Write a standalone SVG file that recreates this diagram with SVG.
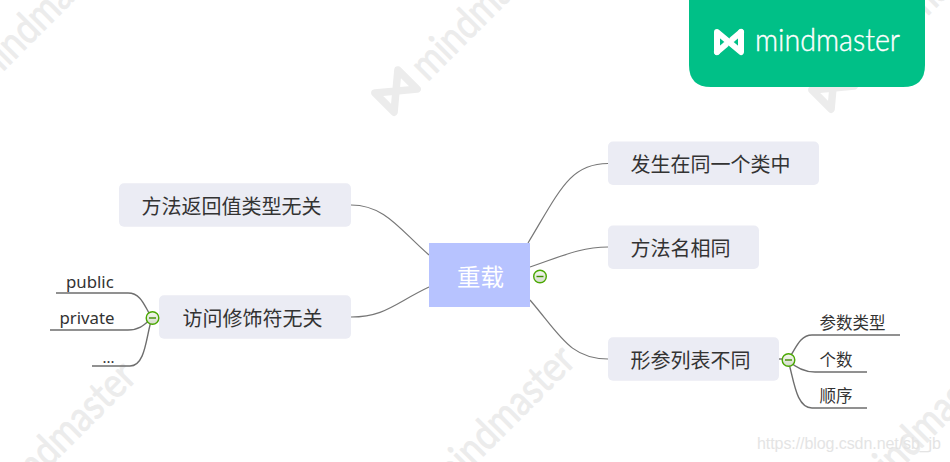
<svg xmlns="http://www.w3.org/2000/svg" xmlns:xlink="http://www.w3.org/1999/xlink" width="950" height="462" viewBox="0 0 950 462">
<style>
text{font-family:"Noto Sans CJK SC","Liberation Sans",sans-serif;fill:#333}
.n{fill:#ebecf4}
.t{font-size:20px}
.s{font-size:16.500px}
.l{font-size:16.800px;font-family:"Noto Sans",sans-serif}
.c{fill:none;stroke:#777;stroke-width:1.2}
.d{fill:none;stroke:#6e6e6e;stroke-width:1.4}
.wm{font-family:Lato,"Open Sans",sans-serif;font-size:42px;fill:#ececec;stroke:#ececec;stroke-width:.8}
.tg{fill:url(#tg);stroke:#4aa802;stroke-width:1.4}
.tm{stroke:#3f8f00;stroke-width:1.4}
</style>
<defs>
<linearGradient id="tg" x1="0" y1="0" x2="0" y2="1"><stop offset="0" stop-color="#f4f8ee"/><stop offset="1" stop-color="#d5dccd"/></linearGradient>
<g id="wm">
<path d="M-24,-20 L-24,20 L24,-20 L24,20 Z" transform="translate(3.500,-2.100) scale(.68)" fill="none" stroke="#ececec" stroke-width="11" stroke-linejoin="round"/>
<text class="wm" x="32" y="14" textLength="185" lengthAdjust="spacingAndGlyphs">mindmaster</text>
</g>
<g id="tog"><circle r="6.300" class="tg"/><path d="M-3.500,0H3.500" class="tm"/></g>
</defs>
<g id="watermarks">
<use xlink:href="#wm" transform="translate(-45,100) rotate(-45)"/>
<use xlink:href="#wm" transform="translate(395,95) rotate(-45)"/>
<use xlink:href="#wm" transform="translate(832,92) rotate(-45)"/>
<use xlink:href="#wm" transform="translate(-25,522) rotate(-45)"/>
<use xlink:href="#wm" transform="translate(414,506) rotate(-45)"/>
<use xlink:href="#wm" transform="translate(838,512) rotate(-45)"/>
</g>
<g id="brand">
<path d="M689,0H925V65Q925,87 903,87H711Q689,87 689,65Z" fill="#00c087"/>
<path d="M741,32L733,38.700M725,45.300L717,52" fill="none" stroke="#fff" stroke-width="6" stroke-linecap="round"/>
<path d="M733,38.700L725,45.300" fill="none" stroke="#fff" stroke-opacity=".55" stroke-width="6"/>
<path d="M717,52V32L741,52V32" fill="none" stroke="#fff" stroke-width="6" stroke-linecap="round" stroke-linejoin="round"/>
<text x="755" y="51" font-size="31" textLength="145" lengthAdjust="spacingAndGlyphs" style="font-family:Lato,sans-serif;font-weight:300;fill:#fff;stroke:#fff;stroke-width:.4">mindmaster</text>
</g>
<g id="connectors">
<path class="c" d="M528,243C560,190 570,163.500 608,163.500"/>
<path class="c" d="M530,267C560,257 580,247 608,247"/>
<path class="c" d="M530,300C560,335 570,359 608,359"/>
<path class="c" d="M429,255C400,230 385,205 351,205"/>
<path class="c" d="M429,287C395,303 385,317 351,317"/>
<path class="d" d="M779,359H788"/>
<path class="d" d="M788,360C796,348 800,335 812,335H900"/>
<path class="d" d="M788,360C796,368 804,372 815,372H867"/>
<path class="d" d="M788,360C794,380 796,408 812,408H867"/>
<path class="d" d="M152,318C145,308 142,293 128,293H56"/>
<path class="d" d="M152,318C145,324 140,330 128,330H50"/>
<path class="d" d="M152,318C146,335 146,366 130,366H92"/>
</g>
<g id="root"><rect x="429" y="243" width="101" height="64" fill="#b7c3ff"/><text x="480.500" y="286" font-size="23.500" text-anchor="middle" style="fill:#fff">重载</text></g>
<g id="n1"><rect class="n" x="608" y="141.500" width="211" height="43.500" rx="5"/><text class="t" x="630.500" y="171.500">发生在同一个类中</text></g>
<g id="n2"><rect class="n" x="608" y="225.500" width="151" height="43.500" rx="5"/><text class="t" x="630.500" y="255.500">方法名相同</text></g>
<g id="n3"><rect class="n" x="608" y="337.300" width="171" height="43.500" rx="5"/><text class="t" x="630.500" y="367.500">形参列表不同</text></g>
<g id="n4"><rect class="n" x="119" y="183.300" width="232" height="43.500" rx="5"/><text class="t" x="141.500" y="213.500">方法返回值类型无关</text></g>
<g id="n5"><rect class="n" x="159" y="295.300" width="192" height="43.500" rx="5"/><text class="t" x="182.500" y="325.500">访问修饰符无关</text></g>
<g id="n6"><text class="s" x="819.500" y="329">参数类型</text></g>
<g id="n7"><text class="s" x="819.500" y="366">个数</text></g>
<g id="n8"><text class="s" x="819.500" y="402">顺序</text></g>
<g id="n9"><text class="l" x="66" y="288">public</text></g>
<g id="n10"><text class="l" x="59.500" y="324">private</text></g>
<g id="n11"><text class="l" x="102.500" y="363" style="font-size:15px">...</text></g>
<g id="toggles">
<use xlink:href="#tog" x="540" y="276.500"/>
<use xlink:href="#tog" x="788.500" y="360"/>
<use xlink:href="#tog" x="152.500" y="318"/>
</g>
<text x="757" y="449" font-size="16" textLength="184" style="font-family:'Liberation Sans',sans-serif;fill:#e4e4e4">https://blog.csdn.net/sb_jb</text>
</svg>
